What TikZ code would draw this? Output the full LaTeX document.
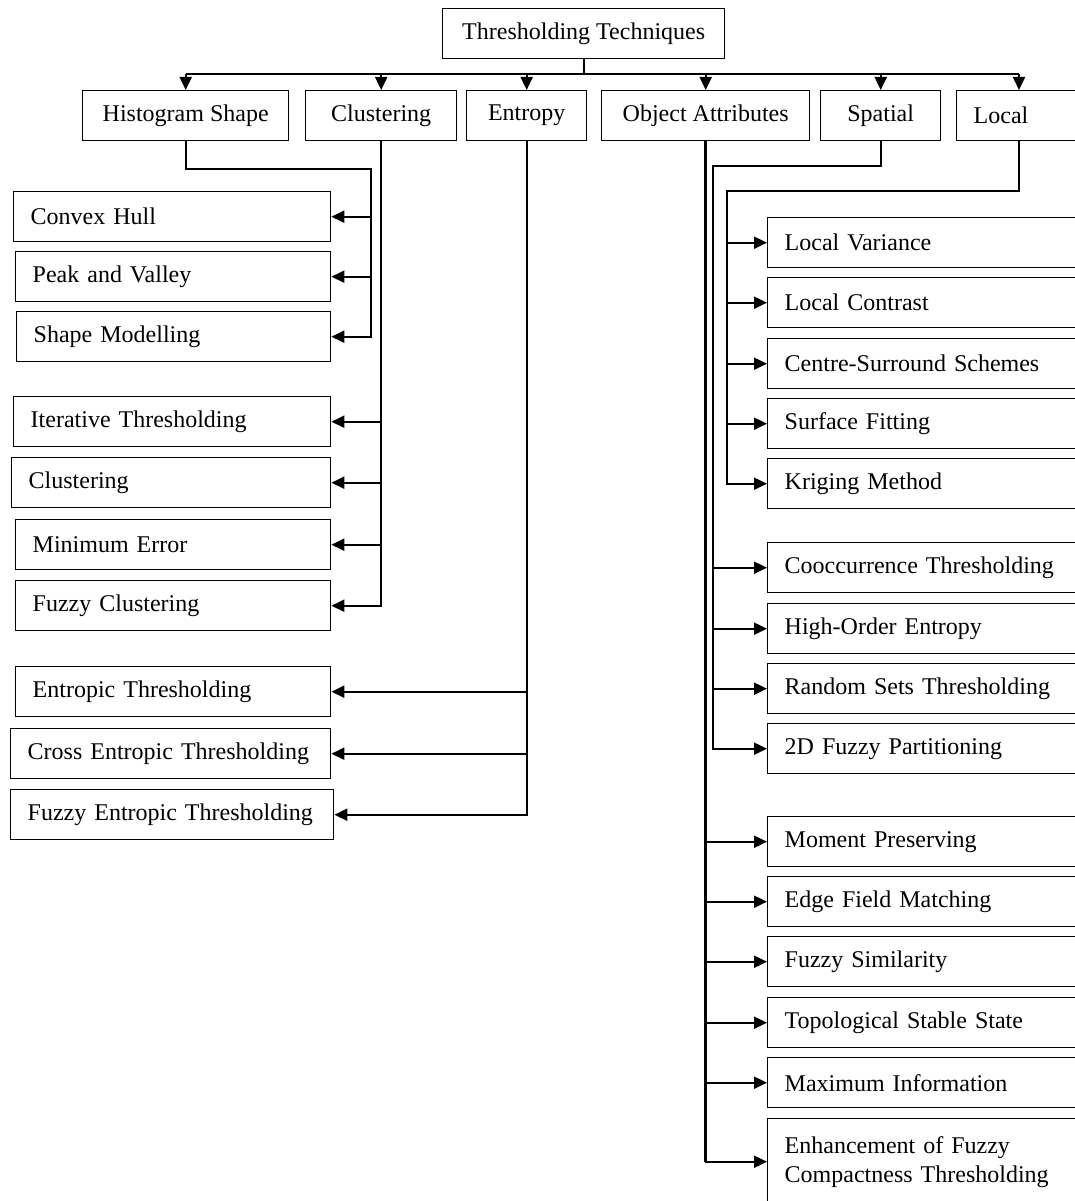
\documentclass[tikz,border=0pt]{standalone}
\usepackage{fontspec}
\setmainfont{Liberation Serif}
\usetikzlibrary{arrows.meta}
\begin{document}
\begin{tikzpicture}[x=1pt,y=-1pt,
  every node/.style={font=\fontsize{24pt}{29pt}\selectfont},
  box/.style={draw, line width=1.4pt, minimum height=50pt, inner ysep=0pt, anchor=north west},
  lbox/.style={box, inner xsep=17pt, align=left, text width=#1},
  cbox/.style={box, minimum width=#1, inner xsep=0pt},
  ln/.style={line width=2pt},
  thick trunk/.style={line width=2.8pt},
  arr/.style={ln, -{Triangle[length=13pt,width=12pt]}}]
\path[use as bounding box, clip] (0,0) rectangle (1075,1201);
\fill[white] (0,0) rectangle (1075,1201);

% top and second row
\node[cbox=282pt] (tt) at (442,8) {Thresholding Techniques};
\node[cbox=206pt] (hs) at (82,90) {Histogram Shape};
\node[cbox=151pt] (cl) at (305,90) {Clustering};
\node[cbox=120pt] (en) at (466,90) {Entropy};
\node[cbox=208pt] (oa) at (601,90) {Object Attributes};
\node[cbox=120pt] (sp) at (820,90) {Spatial};
\node[lbox=110pt] (lo) at (956,90) {\raisebox{2pt}{Local}};

% left column
\node[lbox=283pt] (cvx) at (13,191) {Convex Hull};
\node[lbox=281pt] (pv) at (15,251) {Peak and Valley};
\node[lbox=280pt] (sm) at (16,311) {Shape Modelling};
\node[lbox=283pt] (it) at (13,396) {Iterative Thresholding};
\node[lbox=285pt] (clu) at (11,457) {Clustering};
\node[lbox=281pt] (me) at (15,519) {Minimum Error};
\node[lbox=281pt] (fc) at (15,580) {Fuzzy Clustering};
\node[lbox=281pt] (et) at (15,666) {Entropic Thresholding};
\node[lbox=286pt] (ce) at (10,728) {Cross Entropic Thresholding};
\node[lbox=289pt] (fe) at (10,789) {Fuzzy Entropic Thresholding};

% right column
\node[lbox=309pt] (lv) at (767,217) {Local Variance};
\node[lbox=309pt] (lc) at (767,277) {Local Contrast};
\node[lbox=309pt] (cs) at (767,338) {Centre-Surround Schemes};
\node[lbox=309pt] (sf) at (767,398) {Surface Fitting};
\node[lbox=309pt] (kr) at (767,458) {Kriging Method};
\node[lbox=309pt] (co) at (767,542) {Cooccurrence Thresholding};
\node[lbox=309pt] (ho) at (767,603) {High-Order Entropy};
\node[lbox=309pt] (rs) at (767,663) {Random Sets Thresholding};
\node[lbox=309pt] (fz2) at (767,723) {2D Fuzzy Partitioning};
\node[lbox=309pt] (mp) at (767,816) {Moment Preserving};
\node[lbox=309pt] (ef) at (767,876) {Edge Field Matching};
\node[lbox=309pt] (fs) at (767,936) {Fuzzy Similarity};
\node[lbox=309pt] (ts) at (767,997) {Topological Stable State};
\node[lbox=309pt] (mi) at (767,1057) {Maximum Information};
\node[lbox=309pt, minimum height=86pt] (enh) at (767,1118) {Enhancement of Fuzzy\\Compactness Thresholding};

% top bar
\coordinate (bar) at (583,74);
\coordinate (lox) at ([xshift=63pt]lo.north west);
\draw[ln] (tt.south) -- (tt.south |- bar);
\draw[thick trunk] (hs.north |- bar) -- (lox |- bar);
\foreach \n in {hs,cl,en,oa,sp} \draw[arr] (\n.north |- bar) -- (\n.north);
\draw[arr] (lox |- bar) -- (lox);

% histogram shape
\coordinate (hsj) at (371,169);
\draw[arr] (hs.south) |- (hsj) -- (hsj |- sm.east) -- (sm.east);
\foreach \n in {cvx,pv} \draw[arr] (hsj |- \n.east) -- (\n.east);

% clustering
\draw[arr] (cl.south) |- (fc.east);
\foreach \n in {it,clu,me} \draw[arr] (cl.south |- \n.east) -- (\n.east);

% entropy
\draw[arr] (en.south) |- (fe.east);
\foreach \n in {et,ce} \draw[arr] (en.south |- \n.east) -- (\n.east);

% object attributes
\draw[arr] (oa.south) |- (enh.west);
\draw[thick trunk] (oa.south) -- (oa.south |- enh.west);
\foreach \n in {mp,ef,fs,ts,mi} \draw[arr] (oa.south |- \n.west) -- (\n.west);

% spatial
\coordinate (spj) at (713,166);
\draw[arr] (sp.south) |- (spj) |- (fz2.west);
\draw[thick trunk] (spj) -- (spj |- fz2.west);
\foreach \n in {co,ho,rs} \draw[arr] (spj |- \n.west) -- (\n.west);

% local
\coordinate (loj) at (727,191);
\draw[arr] (lox |- lo.south) |- (loj) |- (kr.west);
\draw[thick trunk] (loj) -- ++(63,0);
\foreach \n in {lv,lc,cs,sf} \draw[arr] (loj |- \n.west) -- (\n.west);
\end{tikzpicture}
\end{document}
